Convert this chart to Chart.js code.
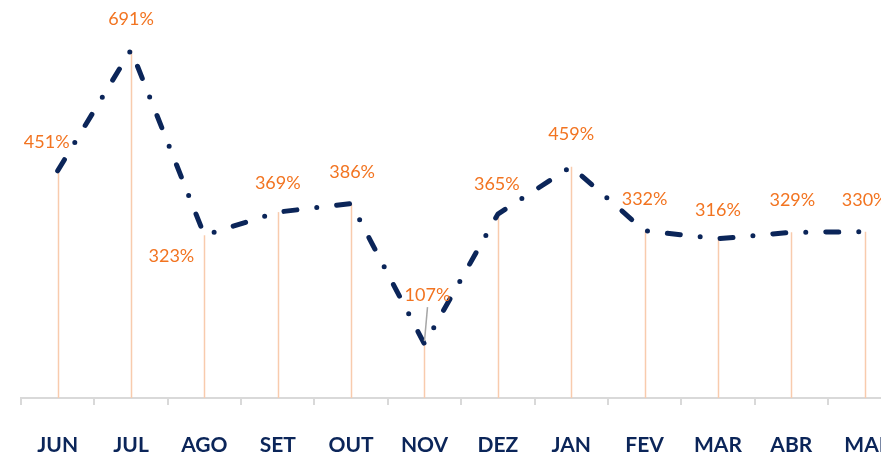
<!DOCTYPE html>
<html>
<head>
<meta charset="utf-8">
<script src="https://cdn.jsdelivr.net/npm/chart.js@4"></script>
<style>
  html, body { margin: 0; padding: 0; background: #ffffff; overflow: hidden; width: 881px; height: 453px; }
  #clip { position: absolute; left: 0; top: 0; width: 881px; height: 453px; overflow: hidden; }
  #wrap { position: absolute; left: 0; top: 0; width: 917px; height: 485px; }
</style>
</head>
<body>
<div id="clip"><div id="wrap"><canvas id="c" width="917" height="485"></canvas></div></div>
<script>
const categories = ['JUN', 'JUL', 'AGO', 'SET', 'OUT', 'NOV', 'DEZ', 'JAN', 'FEV', 'MAR', 'ABR', 'MAI'];
const values = [451, 691, 323, 369, 386, 107, 365, 459, 332, 316, 329, 330];
const valueLabels = values.map(v => v + '%');

// label placement (offset from the point, in px)
const labelOffsets = [
  [-11, -29], [0, -31], [-33, 21], [0, -29], [1, -31], [3, -49],
  [-1, -30], [0, -33], [0, -32], [0, -29], [1, -32], [0, -32]
];

const navy = '#0b2559';
const orange = '#f27421';
const peach = '#f8cbad';
const axisGrey = '#d9d9d9';

const dropLines = {
  id: 'dropLines',
  beforeDatasetsDraw(chart) {
    const ctx = chart.ctx;
    const meta = chart.getDatasetMeta(0);
    const bottom = chart.scales.y.getPixelForValue(0);
    ctx.save();
    ctx.strokeStyle = peach;
    ctx.lineWidth = 1.5;
    meta.data.forEach(pt => {
      ctx.beginPath();
      ctx.moveTo(Math.round(pt.x) + 0.5, pt.y);
      ctx.lineTo(Math.round(pt.x) + 0.5, bottom);
      ctx.stroke();
    });
    ctx.restore();
  }
};

const dataLabels = {
  id: 'dataLabels',
  afterDatasetsDraw(chart) {
    const ctx = chart.ctx;
    const meta = chart.getDatasetMeta(0);
    ctx.save();
    ctx.font = '18px Lato, "Open Sans", sans-serif';
    ctx.fillStyle = orange;
    ctx.textAlign = 'center';
    ctx.textBaseline = 'middle';
    meta.data.forEach((pt, i) => {
      const off = labelOffsets[i];
      const lx = pt.x + off[0];
      const ly = pt.y + off[1];
      ctx.fillText(valueLabels[i], lx, ly);
      if (categories[i] === 'NOV') {
        // leader line
        ctx.save();
        ctx.strokeStyle = '#a6a6a6';
        ctx.lineWidth = 1.5;
        ctx.beginPath();
        ctx.moveTo(lx, ly + 12);
        ctx.lineTo(pt.x, pt.y - 3);
        ctx.stroke();
        ctx.restore();
      }
    });
    ctx.restore();
  }
};

const chart = new Chart(document.getElementById('c'), {
  type: 'line',
  data: {
    labels: categories,
    datasets: [{
      data: values,
      borderColor: navy,
      borderWidth: 5,
      borderDash: [13, 20, 0, 20],
      borderCapStyle: 'round',
      borderJoinStyle: 'round',
      pointRadius: 0,
      tension: 0,
      fill: false,
      clip: false
    }]
  },
  options: {
    responsive: false,
    animation: false,
    events: [],
    layout: { padding: { left: 21, right: 0, top: 0, bottom: 0 } },
    plugins: { legend: { display: false }, tooltip: { enabled: false } },
    scales: {
      x: {
        offset: true,
        grid: {
          offset: true,
          drawOnChartArea: false,
          drawTicks: true,
          tickLength: 7,
          color: axisGrey,
          lineWidth: 2
        },
        border: { display: true, color: axisGrey, width: 2 },
        ticks: {
          color: navy,
          padding: 32,
          maxRotation: 0,
          autoSkip: false,
          font: { family: 'Lato, "Open Sans", sans-serif', size: 21, weight: 'bold', lineHeight: '16px' }
        }
      },
      y: {
        display: false,
        min: 0,
        max: 790
      }
    }
  },
  plugins: [dropLines, dataLabels]
});
</script>
</body>
</html>
